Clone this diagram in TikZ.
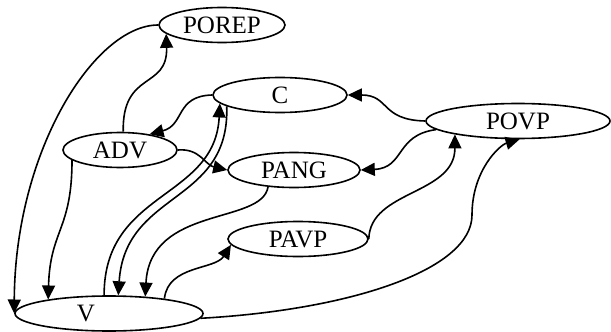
\documentclass[tikz,border=0pt]{standalone}
\usepackage{fontspec}
\setmainfont{Liberation Serif}
\usetikzlibrary{shapes.geometric,arrows.meta}
\tikzset{
  cat node/.style={
    ellipse,
    draw,
    line width=0.8pt,
    inner sep=0pt,
    minimum width={#1pt},
    minimum height={17.5pt},
  },
  edge line/.style={
    -{Triangle[length=7pt,width=6.5pt]},
    line width=0.8pt,
  }
}
\begin{document}
\begin{tikzpicture}[x=0.5pt,y=-0.5pt,font=\fontsize{12.5}{15}\selectfont]
        \useasboundingbox (0,0) rectangle (611,332);
        \node [cat node=63] (porep) at (222,25) {POREP};
        \node [cat node=67] (c) at (280,95) {C};
        \node [cat node=57] (adv) at (120,150) {ADV};
        \node [cat node=92] (povp) at (518,121) {POVP};
        \node [cat node=66] (pang) at (294,170) {PANG};
        \node [cat node=70] (pavp) at (298,239) {PAVP};
        \node [cat node=94] (v) at (109,313.5) {V\hspace*{23pt}};

        \draw [edge line] (porep.west) .. controls (95,25) and (15,150) .. (v.west);
        \draw [edge line] (adv.80) .. controls (122,70) and (168,90) .. (porep.189);
        \draw [edge line] (c.west) .. controls (175,96) and (185,125) .. (adv.28);
        \draw [edge line] (adv.east) .. controls (200,148) and (205,165) .. (pang.west);
        \draw [edge line] (adv.192) .. controls (72,230) and (50,230) .. (v.167);
        \draw [edge line] (v.105) .. controls (104,190) and (215,200) .. (c.188);
        \draw [edge line] (c.192) .. controls (230,205) and (125,190) .. (v.63);
        \draw [edge line] (pang.213) .. controls (262,225) and (150,205) .. (v.25);
        \draw [edge line] (v.15) .. controls (168,265) and (215,270) .. (pavp.185);
        \draw [edge line] (povp.west) .. controls (380,120) and (390,95) .. (c.east);
        \draw [edge line] (povp.186) .. controls (395,135) and (405,168) .. (pang.east);
        \draw [edge line] (pavp.east) .. controls (370,190) and (455,195) .. (povp.192);
        \draw [edge line] (v.-3) .. controls (350,310) and (472,270) .. (472,215)
                .. controls (472,170) and (500,145) .. (povp.-85);
    \end{tikzpicture}
\end{document}
